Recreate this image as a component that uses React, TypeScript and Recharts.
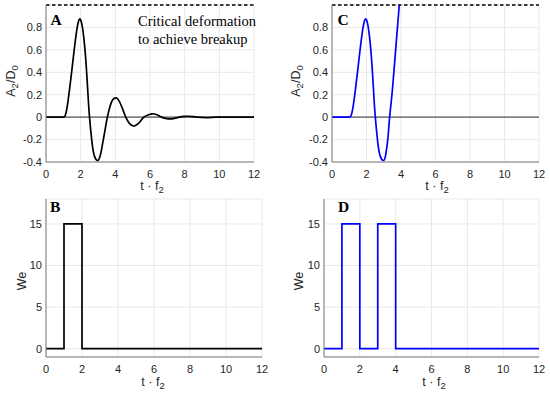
import React from 'react'
import { LineChart, Line, XAxis, YAxis, CartesianGrid, ReferenceLine } from 'recharts'

// deformation A2/D0 vs t·f2 (single pulse, panel A)
const tA = [0, 0.5, 0.9, 1, 1.1, 1.25, 1.5, 1.75, 2, 2.25, 2.4, 2.5, 2.65, 2.8, 3.0, 3.15, 3.25, 3.4, 3.54, 3.7, 3.85, 4.06, 4.25, 4.45, 4.6, 4.8, 5.0, 5.13, 5.3, 5.45, 5.64, 5.9, 6.15, 6.4, 6.67, 6.9, 7.15, 7.4, 7.7, 7.95, 8.2, 8.5, 8.75, 9.25, 9.8, 10.5, 11.2, 12]
const defA = [0, 0, 0, 0, 0.012, 0.12, 0.43, 0.75, 0.868, 0.6, 0.26, 0.02, -0.22, -0.35, -0.386, -0.33, -0.25, -0.12, 0, 0.1, 0.155, 0.172, 0.135, 0.06, 0, -0.053, -0.077, -0.077, -0.06, -0.037, 0, 0.02, 0.03, 0.021, 0, -0.011, -0.016, -0.011, 0, 0.006, 0.008, 0.005, 0, -0.004, 0, 0, 0, 0]

// double pulse (panel C) -> reaches breakup
const tC = [0, 0.5, 0.9, 1, 1.1, 1.25, 1.5, 1.75, 2, 2.25, 2.4, 2.5, 2.65, 2.8, 3.0, 3.12, 3.24, 3.34, 3.5, 3.7, 3.9]
const defC = [0, 0, 0, 0, 0.012, 0.12, 0.43, 0.75, 0.868, 0.6, 0.26, 0.02, -0.22, -0.35, -0.386, -0.33, -0.19, 0, 0.24, 0.62, 1.0]

// Weber number pulses
const tB = [0, 1, 2, 12]
const weB = [0, 15, 0, 0]
const tD = [0, 1, 2, 3, 4, 12]
const weD = [0, 15, 0, 15, 0, 0]

const xTicks = [0, 2, 4, 6, 8, 10, 12]
const defTicks = [-0.4, -0.2, 0, 0.2, 0.4, 0.6, 0.8]
const weTicks = [0, 5, 10, 15]
const CRITICAL = 1.0

const SANS = '"Liberation Sans", Arial, sans-serif'
const SERIF = '"Liberation Serif", "Times New Roman", serif'
const TICK = { fontSize: 11, fill: '#262626', fontFamily: SANS }
const AXIS = '#7a7a7a'
const GRID = '#e9e9e9'

const toRows = (t: number[], v: number[]) => t.map((x, i) => ({ t: x, v: v[i] }))

interface PanelProps {
  left: number
  top: number
  height: number
  yWidth: number
  right: number
  marginTop: number
  xHeight: number
  rows: { t: number; v: number }[]
  domain: [number, number]
  ticks: number[]
  color: string
  step?: boolean
  deformation?: boolean
}

const Panel: React.FC<PanelProps> = (p) => (
  <div style={{ position: 'absolute', left: p.left, top: p.top }}>
    <LineChart
      width={275}
      height={p.height}
      data={p.rows}
      margin={{ top: p.marginTop, right: p.right, left: 0, bottom: 0 }}
    >
      <CartesianGrid stroke={GRID} strokeWidth={1} />
      <XAxis
        dataKey="t"
        type="number"
        domain={[0, 12]}
        ticks={xTicks}
        height={p.xHeight}
        stroke={AXIS}
        tickLine={false}
        tickSize={0}
        tickMargin={8}
        tick={TICK}
        interval={0}
      />
      <YAxis
        type="number"
        domain={p.domain}
        ticks={p.ticks}
        width={p.yWidth}
        stroke={AXIS}
        tickLine={false}
        tickSize={0}
        tickMargin={4}
        tick={TICK}
        interval={0}
        allowDataOverflow
      />
      {p.deformation && <ReferenceLine y={0} stroke="#555" strokeWidth={1.3} />}
      {p.deformation && (
        <ReferenceLine y={CRITICAL} stroke="#000" strokeWidth={1.6} strokeDasharray="3.5 2.5" />
      )}
      <Line
        dataKey="v"
        type={p.step ? 'stepAfter' : 'natural'}
        stroke={p.color}
        strokeWidth={1.7}
        dot={false}
        isAnimationActive={false}
      />
    </LineChart>
  </div>
)

const XLabel = ({ x, y }: { x: number; y: number }) => (
  <text x={x} y={y} textAnchor="middle" fontSize={12.5} fontFamily={SANS} fill="#262626">
    t · f<tspan dy={3} fontSize={9.5}>2</tspan>
  </text>
)

const DefLabel = ({ x, y }: { x: number; y: number }) => (
  <text transform={`translate(${x},${y}) rotate(-90)`} textAnchor="middle" fontSize={12.5} fontFamily={SANS} fill="#262626">
    A<tspan dy={3} fontSize={9.5}>2</tspan>
    <tspan dy={-3}>/D</tspan>
    <tspan dy={3} fontSize={9.5}>0</tspan>
  </text>
)

const WeLabel = ({ x, y }: { x: number; y: number }) => (
  <text transform={`translate(${x},${y}) rotate(-90)`} textAnchor="middle" fontSize={12.5} fontFamily={SANS} fill="#262626">
    We
  </text>
)

const Letter = ({ x, y, s }: { x: number; y: number; s: string }) => (
  <text x={x} y={y} fontSize={15.5} fontWeight="bold" fontFamily={SERIF} fill="#000">
    {s}
  </text>
)

export default function App() {
  return (
    <div style={{ position: 'absolute', left: 0, top: 0, width: 550, height: 395, background: '#fff' }}>
      <Panel left={0} top={0} height={195} yWidth={46} right={21} marginTop={5} xHeight={33}
        rows={toRows(tA, defA)} domain={[-0.4, 1]} ticks={defTicks} color="#000" deformation />
      <Panel left={275} top={0} height={195} yWidth={57} right={11} marginTop={5} xHeight={33}
        rows={toRows(tC, defC)} domain={[-0.4, 1]} ticks={defTicks} color="#0000ff" deformation />
      <Panel left={0} top={195} height={200} yWidth={46} right={13} marginTop={4} xHeight={38}
        rows={toRows(tB, weB)} domain={[-1, 18]} ticks={weTicks} color="#000" step />
      <Panel left={275} top={195} height={200} yWidth={49} right={11} marginTop={4} xHeight={38}
        rows={toRows(tD, weD)} domain={[-1, 18]} ticks={weTicks} color="#0000ff" step />
      <svg width={550} height={395} style={{ position: 'absolute', left: 0, top: 0, pointerEvents: 'none' }}>
        <Letter x={50.5} y={25} s="A" />
        <Letter x={337.5} y={25} s="C" />
        <Letter x={50} y={212} s="B" />
        <Letter x={338} y={212} s="D" />
        <text x={138} y={26} fontSize={14.5} fontFamily={SERIF} fill="#000">Critical deformation</text>
        <text x={138} y={44} fontSize={14.5} fontFamily={SERIF} fill="#000">to achieve breakup</text>
        <DefLabel x={15} y={81} />
        <DefLabel x={300} y={81} />
        <WeLabel x={26} y={281} />
        <WeLabel x={303} y={281} />
        <XLabel x={152} y={190} />
        <XLabel x={437} y={190} />
        <XLabel x={153} y={386} />
        <XLabel x={434} y={386} />
      </svg>
    </div>
  )
}
